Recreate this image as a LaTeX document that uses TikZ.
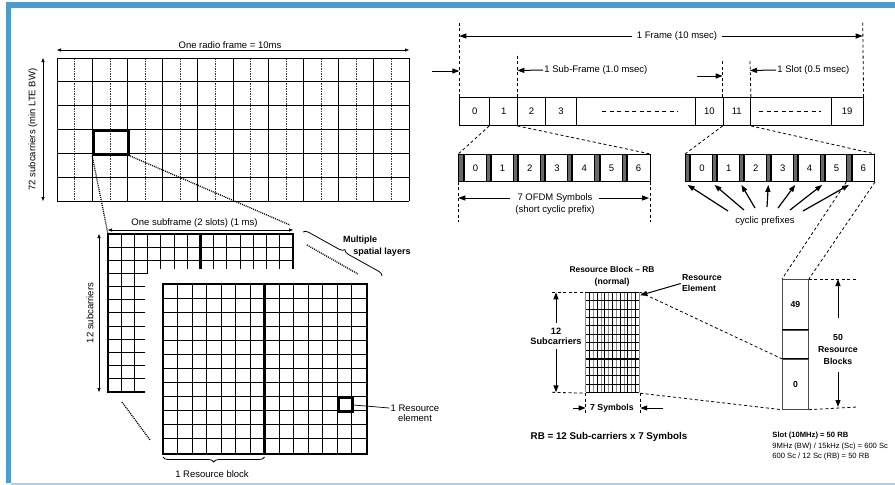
\documentclass[tikz,border=0pt]{standalone}
\usepackage{fontspec}
\setmainfont{Liberation Sans}
\usetikzlibrary{arrows.meta,decorations.pathreplacing,positioning}
\definecolor{barblue}{RGB}{74,157,204}
\definecolor{linblue}{RGB}{160,212,238}
\definecolor{cpgray}{RGB}{105,105,105}
\tikzset{
  lbl/.style={font=\fontsize{9.5}{11}\selectfont, inner sep=1pt},
  blbl/.style={font=\fontsize{8.7}{12}\selectfont\bfseries, inner sep=1pt, align=center},
  heavy/.style={line width=2.6pt},
  dotln/.style={line width=1.3pt, dash pattern=on 1pt off 1pt},
  dashln/.style={line width=0.8pt, dash pattern=on 3pt off 2.5pt},
  dimsmall/.style={{Triangle[length=4pt,width=3pt]}-{Triangle[length=4pt,width=3pt]}, line width=0.7pt},
  bigarr/.style={-{Triangle[length=7pt,width=5pt]}, line width=1pt},
  fcell/.style={draw, anchor=north west, minimum height=28, inner sep=0, lbl},
  cpbox/.style={draw, fill=cpgray, anchor=north west, minimum width=4.3, minimum height=27, inner sep=0},
  symbox/.style={draw, anchor=north west, minimum height=27, inner sep=0, lbl},
  colcell/.style={draw=black!70, anchor=north west, minimum width=26, inner sep=0, blbl},
}
\begin{document}
\begin{tikzpicture}[x={(1pt,0pt)}, y={(0pt,-1pt)}, line width=0.9pt]
    \useasboundingbox (0,0) rectangle (895,485);
    \fill[barblue] (6,2) rectangle (895,8);
    \fill[barblue] (6,2) rectangle (11,483);
    \fill[linblue] (11,483) rectangle (895,485);

    % radio frame grid
    \node[minimum width=352, minimum height=143, anchor=north west, inner sep=0] (radiogrid) at (57,58) {};
    \foreach \i in {0,...,10}
      \draw ({57+35.2*\i},58) -- ({57+35.2*\i},201);
    \foreach \i in {0,...,9}
      \draw[line width=0.5pt, black!80, dash pattern=on 1.5pt off 1pt] ({74.6+35.2*\i},58) -- ({74.6+35.2*\i},201);
    \foreach \j in {0,...,6}
      \draw (57,{58+23.83*\j}) -- (409,{58+23.83*\j});
    \node[heavy, draw, minimum width=35.2, minimum height=23.83, anchor=north west, inner sep=0] (hl) at (92.2,129.5) {};
    \coordinate (rfL) at (57,50);
    \coordinate (rfR) at (409,50);
    \draw[dimsmall] (rfL) -- (rfR) node[lbl, midway, above, xshift=-3] (rflbl) {One radio frame = 10ms};
    \coordinate (scT) at (43,58);
    \coordinate (scB) at (43,201);
    \draw[dimsmall] (scT) -- (scB);
    \node[lbl, rotate=90] (sclbl) at (33,129.5) {72 subcarriers (min LTE BW)};

    % subframe, back layer
    \node[minimum width=184.8, minimum height=157.8, anchor=north west, inner sep=0] (subgrid) at (108,234) {};
    \foreach \j in {1,2}
      \draw (108,{234+13.15*\j}) -- (292.8,{234+13.15*\j});
    \draw (108,273.5) -- (147.6,273.5);
    \foreach \j in {4,...,11}
      \draw (108,{234+13.15*\j}) -- (145,{234+13.15*\j});
    \foreach \i in {1,2}
      \draw ({108+13.2*\i},234) -- ({108+13.2*\i},391.8);
    \draw (147.6,234) -- (147.6,273.5);
    \foreach \i in {4,5,6,8,9,10,11,12,13}
      \draw ({108+13.2*\i},234) -- ({108+13.2*\i},269);
    \draw[heavy] (145,391.8) -- (108,391.8) -- (108,234) -- (292.8,234) -- (292.8,269);
    \draw[heavy] (200.4,234) -- (200.4,269);
    \coordinate (sfL) at (108,230);
    \coordinate (sfR) at (293,230);
    \draw[dotln] (hl.south west) -- (subgrid.north west);
    \draw[dotln] (hl.south east) -- ([xshift=-3pt, yshift=5pt]sfR);
    \draw[dimsmall] (sfL) -- (sfR) node[lbl, midway, above=1pt, xshift=-6] (sflbl) {One subframe (2 slots) (1 ms)};
    \coordinate (twT) at (99,234);
    \coordinate (twB) at (99,392);
    \draw[dimsmall] (twT) -- (twB);
    \node[lbl, rotate=90] (twlbl) at (90,313) {12 subcarriers};

    % subframe, front layer
    \node[minimum width=203, minimum height=169, anchor=north west, inner sep=0] (rbfront) at (163,284) {};
    \foreach \i in {1,...,13}
      \draw ({163+14.5*\i},284) -- ({163+14.5*\i},453);
    \foreach \j in {1,...,11}
      \draw (163,{284+14.083*\j}) -- (366,{284+14.083*\j});
    \draw[heavy] (rbfront.north west) rectangle (rbfront.south east);
    \draw[heavy] (264.5,284) -- (264.5,453);
    \node[heavy, draw, minimum width=14.5, minimum height=14.08, anchor=north west, inner sep=0] (re) at (337,396.7) {};
    \node[lbl] (relbl) at (415,408) {1 Resource};
    \node[lbl, below=0pt of relbl] (relbl2) {element};
    \draw[line width=0.7pt] (re.east) -- (relbl.west);
    \draw[decorate, decoration={brace, mirror, amplitude=5pt}, line width=0.8pt] (163,457) -- (264.5,457);
    \node[lbl] (rblk) at (212,474) {1 Resource block};
    \draw[dotln] (307,245) -- (358,274);
    \draw[dotln] (122,402) -- (150,440);
    \draw[decorate, decoration={brace, amplitude=5pt}, line width=0.8pt] (303,232) -- (382,276);
    \node[lbl, font=\fontsize{9}{10}\selectfont\bfseries] (mslbl) at (360,240) {Multiple};
    \node[lbl, font=\fontsize{9}{10}\selectfont\bfseries] (mslbl2) at (382,252) {spatial layers};

    % frame of 20 slots
    \foreach \nm/\fx/\fw/\ft in {f0/459.3/30/0, f1/489.3/28/1, f2/517.3/27.7/2, f3/545/31/3, fd1/576/119/{}, f10/695/27.7/10, f11/722.7/27.3/11, fd2/750/80.7/{}, f19/830.7/32/19}
      \node[fcell, minimum width=\fw] (\nm) at (\fx,97) {\ft};
    \draw[line width=0.8pt, dash pattern=on 4pt off 3.5pt] (602,111) -- (678,111);
    \draw[line width=0.8pt, dash pattern=on 4pt off 3.5pt] (759,111) -- (821,111);
    \draw[dashln] (f0.north west) -- (459.3,22);
    \draw[dashln] (f19.north east) -- (862.7,22);
    \draw[dashln] (f2.north west) -- (517.3,53);
    \draw[dashln] (f11.north west) -- (722.7,60);
    \draw[dashln] (f11.north east) -- (750,60);
    \node[lbl, fill=white, inner xsep=4pt] (frlbl) at (677,36) {1 Frame (10 msec)};
    \coordinate (frL) at (459.3,36);
    \coordinate (frR) at (862.7,36);
    \draw[bigarr] (frlbl.west) -- (frL);
    \draw[bigarr] (frlbl.east) -- (frR);
    \node[lbl, anchor=west] (subflbl) at (543,70) {1 Sub-Frame (1.0 msec)};
    \coordinate (subfL) at (517.3,70.5);
    \draw[bigarr] (subflbl.west) -- (subfL);
    \coordinate (subfRt) at (697,76);
    \coordinate (subfR) at (722.7,76);
    \draw[bigarr] (subfRt) -- (subfR);
    \coordinate (entry) at (432,71);
    \coordinate (entryT) at (459.3,71);
    \draw[bigarr] (entry) -- (entryT);
    \node[lbl, anchor=west] (slotlbl) at (776,70) {1 Slot (0.5 msec)};
    \coordinate (slotL) at (750,70.5);
    \draw[bigarr] (slotlbl.west) -- (slotL);

    % OFDM symbols
    \foreach \k in {0,...,6} {
      \node[cpbox] (lcp\k) at ({458.3+27.2*\k},154) {};
      \node[symbox, minimum width=22.9] (ls\k) at (lcp\k.north east) {\k};
      \node[cpbox] (rcp\k) at ({685+26.9*\k},154) {};
      \node[symbox, minimum width=22.6] (rs\k) at (rcp\k.north east) {\k};
    }
    \draw[dashln] (f1.south west) -- (lcp0.north west);
    \draw[dashln] (f2.south west) -- (ls6.north east);
    \draw[dashln] (f11.south west) -- (rcp0.north west);
    \draw[dashln] (f11.south east) -- (rs6.north east);
    \draw[dashln] (lcp0.south west) -- ++(0,40);
    \draw[dashln] (ls6.south east) -- ++(0,40);
    \node[lbl] (ofdm) at (555,198) {7 OFDM Symbols};
    \node[lbl, below=0pt of ofdm] (ofdm2) {(short cyclic prefix)};
    \coordinate (ofdmL) at (458.3,198);
    \coordinate (ofdmR) at (649,198);
    \draw[bigarr, shorten <=6pt] (ofdm.west) -- (ofdmL);
    \draw[bigarr, shorten <=5pt] (ofdm.east) -- (ofdmR);
    \node[lbl] (cplbl) at (765,221) {cyclic prefixes};
    \foreach \k/\tx/\ty in {0/728/211, 1/744/210, 2/755/208, 3/767/207, 4/778/208, 5/790/210, 6/803/211} {
      \coordinate (cpt\k) at (\tx,\ty);
      \draw[bigarr, line width=1.2pt] (cpt\k) -- ([yshift=-3pt]rcp\k.south);
    }

    % 50 resource blocks
    \node[colcell, minimum height=50] (c49) at (782,279) {49};
    \node[colcell, minimum height=28] (cmid) at (c49.south west) {};
    \node[colcell, minimum height=50] (c0) at (cmid.south west) {0};
    \draw (c49.south west) -- (c49.south east);
    \draw (c0.north west) -- (c0.north east);
    \draw[dashln] (rcp6.south west) -- (c49.north west);
    \draw[dashln] (rs6.south east) -- (c49.north east);
    \draw[dashln] (c49.north east) -- (857,279);
    \draw[dashln] (c0.south east) -- (857,407);
    \node[blbl] (rbslbl) at (838,349) {50\\Resource\\Blocks};
    \coordinate (rbsT) at (838,279);
    \coordinate (rbsB) at (838,407);
    \draw[bigarr, shorten <=14pt] (rbslbl.north) -- (rbsT);
    \draw[bigarr, shorten <=6pt] (rbslbl.south) -- (rbsB);

    % resource block
    \node[minimum width=53.6, minimum height=100, anchor=north west, inner sep=0] (rbgrid) at (585.7,292.3) {};
    \foreach \i in {0,2,...,14}
      \draw[line width=0.8pt, black!45] ({585.7+3.83*\i},292.3) -- ({585.7+3.83*\i},392.3);
    \foreach \i in {1,3,...,13}
      \draw[line width=0.8pt] ({585.7+3.83*\i},292.3) -- ({585.7+3.83*\i},392.3);
    \foreach \j in {0,...,12}
      \draw[line width=0.8pt] (585.7,{292.3+8.333*\j}) -- (639.3,{292.3+8.333*\j});
    \draw[line width=1.6pt] (585.7,359) -- (639.3,359);
    \draw[dashln] (552,292.3) -- (rbgrid.north west);
    \draw[dashln] (552,392.3) -- (rbgrid.south west);
    \node[blbl, font=\fontsize{9.2}{9.5}\selectfont\bfseries] (twelve) at (556,336.5) {12\\Subcarriers};
    \coordinate (rbT) at (556,292.3);
    \coordinate (rbB) at (556,392.3);
    \draw[bigarr, shorten <=4pt] (twelve.north) -- (rbT);
    \draw[bigarr, shorten <=3pt] (twelve.south) -- (rbB);
    \node[blbl, font=\fontsize{8.4}{10}\selectfont\bfseries] (rbtitle) at (612,269) {Resource Block \textendash{} RB};
    \node[blbl] (rbnorm) at (612,282) {(normal)};
    \node[blbl, align=left, font=\fontsize{8.7}{11}\selectfont\bfseries] (elem) at (702,283.5) {Resource\\Element};
    \draw[bigarr] (elem.west) -- ([yshift=-3pt]rbgrid.north east);
    \draw[dashln] (rbgrid.north east) -- (c0.north west);
    \draw[dashln] (rbgrid.south east) -- (c0.south west);
    \draw[dashln] (rbgrid.south west) -- ++(0,21);
    \draw[dashln] (rbgrid.south east) -- ++(0,21);
    \node[blbl] (sevsym) at (612,408) {7 Symbols};
    \coordinate (symLt) at (573,408);
    \coordinate (symRt) at (663,408);
    \draw[bigarr] (symLt) -- (rbgrid.south west |- symLt);
    \draw[bigarr] (symRt) -- (rbgrid.south east |- symRt);
    \node[font=\fontsize{9.8}{11}\selectfont\bfseries] (rbeq) at (609,437) {RB = 12 Sub-carriers x 7 Symbols};
    \node[anchor=north west, align=left, font=\fontsize{7.6}{10.5}\selectfont, inner sep=0] (slotnote) at (772,432) {\textbf{Slot (10MHz) = 50 RB}\\9MHz (BW) / 15kHz (Sc) = 600 Sc\\600 Sc / 12 Sc (RB) = 50 RB};
\end{tikzpicture}
\end{document}
